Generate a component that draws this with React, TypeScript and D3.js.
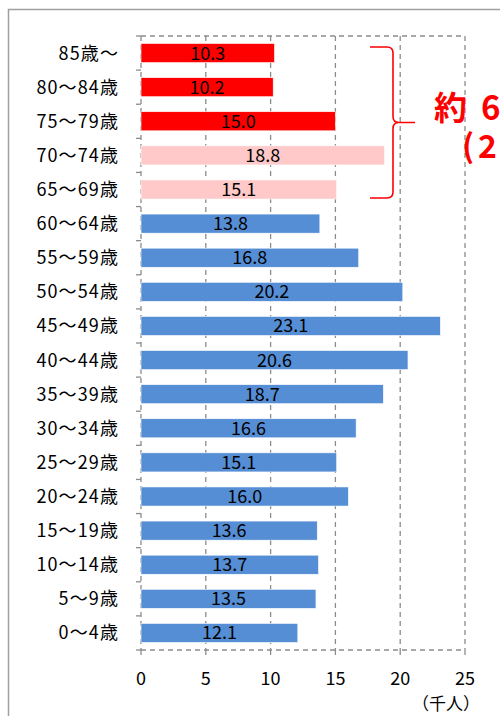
import React from "react";
import * as d3 from "d3";

// Age groups, oldest at the top
const ageGroups = [
  "85歳～", "80～84歳", "75～79歳", "70～74歳", "65～69歳", "60～64歳",
  "55～59歳", "50～54歳", "45～49歳", "40～44歳", "35～39歳", "30～34歳",
  "25～29歳", "20～24歳", "15～19歳", "10～14歳", "5～9歳", "0～4歳",
];
// Population per group (thousand people)
const population = [
  10.3, 10.2, 15.0, 18.8, 15.1, 13.8, 16.8, 20.2, 23.1, 20.6, 18.7, 16.6,
  15.1, 16.0, 13.6, 13.7, 13.5, 12.1,
];
// Colour group per bar: 75+ / 65–74 / under 65
const groupKind = [
  "old", "old", "old", "senior", "senior", "young", "young", "young", "young",
  "young", "young", "young", "young", "young", "young", "young", "young", "young",
];
const xTicks = [0, 5, 10, 15, 20, 25];
const unitLabel = "（千人）";
const noteHead = "約";
const noteValue = "6.9万人";
const noteShare = "(24.5%)";

const colors: Record<string, string> = {
  old: "#FF0000",
  senior: "#FFC9C9",
  young: "#558ED5",
};

const W = 500;
const H = 716;
const left = 141;
const right = 465;
const top = 36;
const bottom = 650;
const font = "'Noto Sans CJK JP', 'Noto Sans', sans-serif";
const grid = "#8c8c8c";

export default function App() {
  const x = d3.scaleLinear().domain([0, 25]).range([left, right]);
  const y = d3
    .scaleBand<string>()
    .domain(ageGroups)
    .range([top, bottom])
    .paddingInner(0.44)
    .paddingOuter(0.22);
  const boundaries = d3
    .range(ageGroups.length + 1)
    .map((i) => top + i * ((bottom - top) / ageGroups.length));

  // Brace spanning the 65+ groups
  const b0 = 47;
  const b1 = 198;
  const bm = (b0 + b1) / 2;
  const bx0 = 370;
  const bx1 = 393;
  const tip = 415;
  const r = 6;
  const brace = [
    `M${bx0},${b0} L${bx1 - r},${b0} Q${bx1},${b0} ${bx1},${b0 + r}`,
    `L${bx1},${bm - r} Q${bx1},${bm} ${bx1 + r},${bm} L${tip},${bm}`,
    `M${bx1 + r},${bm} Q${bx1},${bm} ${bx1},${bm + r}`,
    `L${bx1},${b1 - r} Q${bx1},${b1} ${bx1 - r},${b1} L${bx0},${b1}`,
  ].join(" ");

  return (
    <svg width={W} height={H} style={{ position: "absolute", left: 0, top: 0, display: "block" }}>
      <rect x={0} y={0} width={W} height={H} fill="#fff" />
      {/* outer frame */}
      <path d={`M8.5,${H} L8.5,9.5 L${W},9.5`} fill="none" stroke="#a0a0a0" strokeWidth={1.5} />

      {/* vertical gridlines */}
      {xTicks.map((t) => (
        <line
          key={`g${t}`}
          x1={x(t)}
          x2={x(t)}
          y1={top}
          y2={bottom}
          stroke={grid}
          strokeWidth={1.3}
          strokeDasharray="5,4"
        />
      ))}
      {/* top border and bottom axis */}
      <line x1={left} x2={right} y1={top} y2={top} stroke={grid} strokeWidth={1.3} strokeDasharray="5,4" />
      <line x1={left} x2={right} y1={bottom} y2={bottom} stroke={grid} strokeWidth={1.3} strokeDasharray="5,4" />
      {/* category tick marks */}
      {boundaries.map((b, i) => (
        <line key={`t${i}`} x1={left - 5} x2={left} y1={b} y2={b} stroke={grid} strokeWidth={1.3} />
      ))}
      {xTicks.map((t) => (
        <line key={`xt${t}`} x1={x(t)} x2={x(t)} y1={bottom} y2={bottom + 5} stroke={grid} strokeWidth={1.3} />
      ))}

      {/* bars */}
      {ageGroups.map((g, i) => (
        <rect
          key={g}
          x={x(0)}
          y={y(g)}
          width={x(population[i]) - x(0)}
          height={y.bandwidth()}
          fill={colors[groupKind[i]]}
          stroke="#ffffff"
          strokeWidth={0.6}
        />
      ))}
      {/* value labels */}
      {ageGroups.map((g, i) => (
        <text
          key={`v${g}`}
          x={(x(0) + x(population[i])) / 2}
          y={(y(g) as number) + y.bandwidth() / 2}
          dy="0.36em"
          textAnchor="middle"
          fontFamily={font}
          fontSize={18}
          fill="#000"
        >
          {population[i].toFixed(1)}
        </text>
      ))}
      {/* category labels */}
      {ageGroups.map((g) => (
        <text
          key={`c${g}`}
          x={119}
          y={(y(g) as number) + y.bandwidth() / 2}
          dy="0.36em"
          textAnchor="end"
          fontFamily={font}
          fontSize={18}
          letterSpacing={1.1}
          fill="#000"
        >
          {g}
        </text>
      ))}
      {/* x tick labels */}
      {xTicks.map((t) => (
        <text
          key={`xl${t}`}
          x={x(t)}
          y={685}
          textAnchor="middle"
          fontFamily={font}
          fontSize={18}
          fill="#000"
        >
          {t}
        </text>
      ))}
      <text x={480} y={710} textAnchor="end" fontFamily={font} fontSize={17} fill="#000">
        {unitLabel}
      </text>

      {/* brace and note */}
      <path d={brace} fill="none" stroke="#FF0000" strokeWidth={1.6} />
      <text x={434} y={120} fontFamily={font} fontSize={33} fontWeight="bold" fill="#FF0000">
        {noteHead}
        <tspan x={481}>{noteValue}</tspan>
      </text>
      <text x={462} y={158} fontFamily={font} fontSize={32} fontWeight="bold" letterSpacing={4} fill="#FF0000">
        {noteShare}
      </text>
    </svg>
  );
}
